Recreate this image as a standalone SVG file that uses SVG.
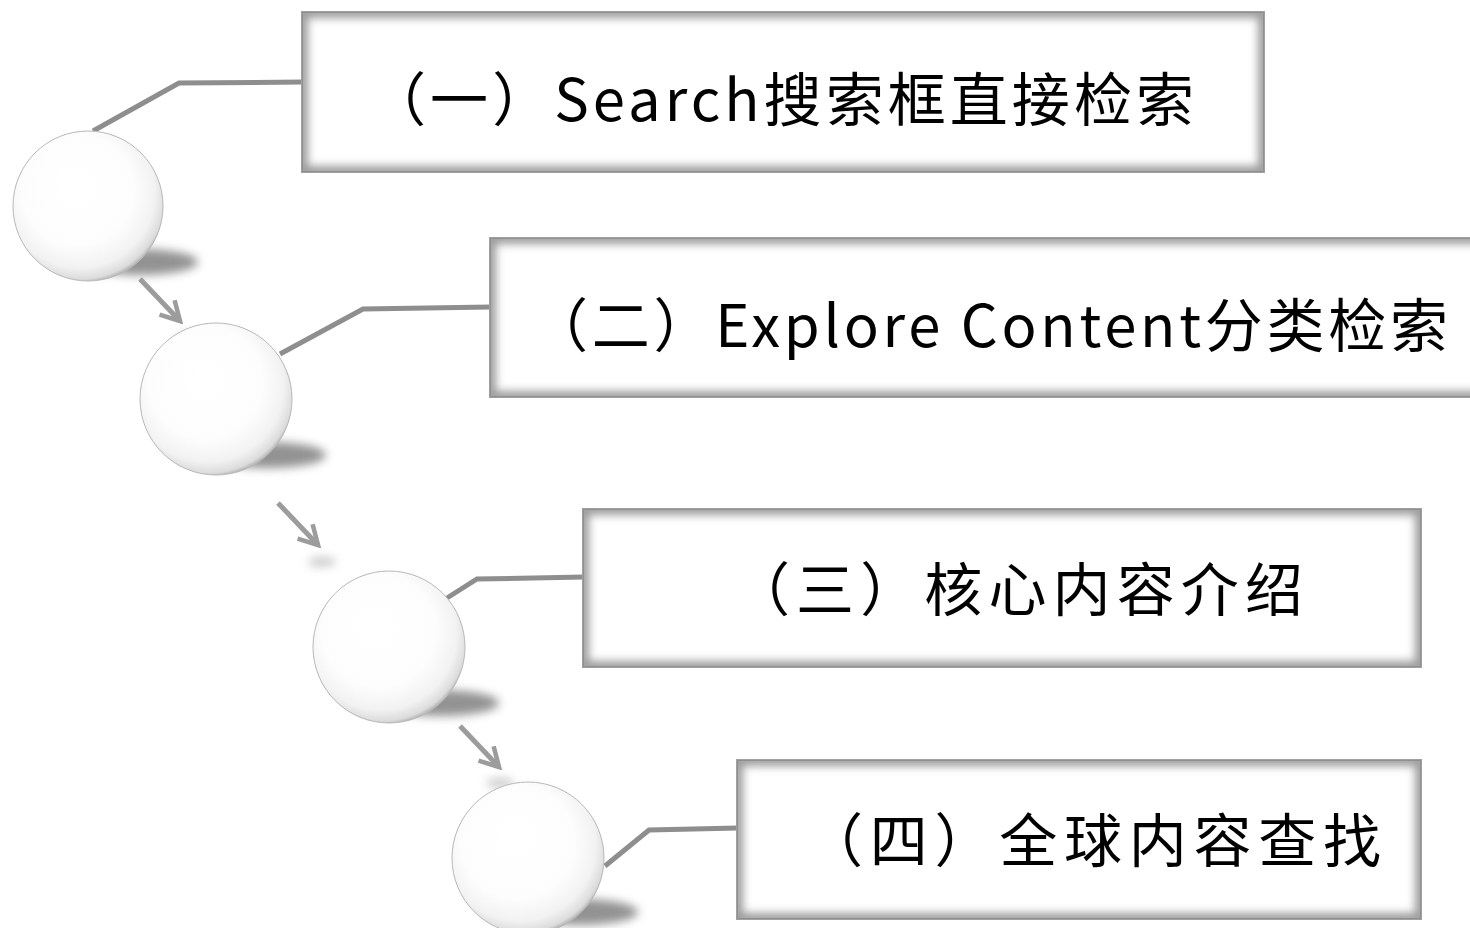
<svg xmlns="http://www.w3.org/2000/svg" width="1470" height="928" viewBox="0 0 1470 928">
<defs>
<style>
.box{fill:#ffffff;stroke:#a0a0a0;stroke-width:2}
.edge{fill:none;stroke:#8a8a8a;stroke-width:12;opacity:0.85;filter:url(#soft);clip-path:url(#inside)}
.ball{fill:url(#ballGrad);stroke:#b8b8b8;stroke-width:1}
.shadow{fill:#6e6e6e;opacity:0.75;filter:url(#blur)}
.ashadow{fill:#9a9a9a;opacity:0.5;filter:url(#blur)}
.conn{fill:none;stroke:#8e8e8e;stroke-width:5;stroke-linejoin:miter}
.arrow{fill:none;stroke:#9c9c9c;stroke-width:5;marker-end:url(#chev)}
.lbl{font-family:"Noto Sans CJK SC","Liberation Sans",sans-serif;font-size:58px;fill:#000}
</style>
<clipPath id="inside" clipPathUnits="objectBoundingBox"><rect x="0" y="0" width="1" height="1"/></clipPath>
<filter id="soft" x="-5%" y="-20%" width="110%" height="140%">
<feGaussianBlur stdDeviation="4"/>
</filter>
<filter id="blur" x="-50%" y="-100%" width="200%" height="300%">
<feGaussianBlur stdDeviation="5"/>
</filter>
<radialGradient id="ballGrad" cx="45%" cy="42%" r="60%" fx="40%" fy="35%">
<stop offset="0" stop-color="#ffffff"/>
<stop offset="0.62" stop-color="#fdfdfd"/>
<stop offset="0.84" stop-color="#f2f2f2"/>
<stop offset="0.95" stop-color="#dcdcdc"/>
<stop offset="1" stop-color="#aaaaaa"/>
</radialGradient>
<marker id="chev" viewBox="0 0 12 12" refX="10" refY="6" markerWidth="5" markerHeight="5" orient="auto" markerUnits="strokeWidth">
<path d="M1,1 L10,6 L1,11" fill="none" stroke="#9c9c9c" stroke-width="2.2"/>
</marker>
</defs>
<rect width="1470" height="928" fill="#ffffff"/>

<g id="shadows">
<ellipse class="shadow" cx="140" cy="262" rx="58" ry="13"/>
<ellipse class="shadow" cx="268" cy="455" rx="58" ry="13"/>
<ellipse class="shadow" cx="441" cy="703" rx="58" ry="13"/>
<ellipse class="shadow" cx="580" cy="912" rx="58" ry="13"/>
<ellipse class="ashadow" cx="190" cy="338" rx="14" ry="5"/>
<ellipse class="ashadow" cx="322" cy="562" rx="14" ry="5"/>
<ellipse class="ashadow" cx="500" cy="783" rx="14" ry="5"/>
</g>

<g id="connectors">
<polyline class="conn" points="93,131 179,83 303,82"/>
<polyline class="conn" points="280,354 363,309 491,307"/>
<polyline class="conn" points="447,598 477,579 584,577"/>
<polyline class="conn" points="605,866 649,830 738,828"/>
<line class="arrow" x1="140" y1="279" x2="180" y2="321"/>
<line class="arrow" x1="278" y1="503" x2="318" y2="545"/>
<line class="arrow" x1="460" y1="726" x2="499" y2="767"/>
</g>

<g id="ball1"><circle class="ball" cx="88" cy="206" r="75"/></g>
<g id="ball2"><circle class="ball" cx="216" cy="399" r="76"/></g>
<g id="ball3"><circle class="ball" cx="389" cy="647" r="76"/></g>
<g id="ball4"><circle class="ball" cx="528" cy="858" r="76"/></g>

<g id="box1">
<rect class="box" x="302" y="12" width="962" height="160"/>
<rect class="edge" x="302" y="12" width="962" height="160"/>
<text class="lbl" x="368" y="121" textLength="826" lengthAdjust="spacing">（一）Search搜索框直接检索</text>
</g>
<g id="box2">
<rect class="box" x="490" y="238" width="1000" height="159"/>
<rect class="edge" x="490" y="238" width="1000" height="159"/>
<text class="lbl" x="530" y="347" textLength="918" lengthAdjust="spacing">（二）Explore Content分类检索</text>
</g>
<g id="box3">
<rect class="box" x="583" y="509" width="838" height="158"/>
<rect class="edge" x="583" y="509" width="838" height="158"/>
<text class="lbl" x="732" y="611" textLength="571" lengthAdjust="spacing">（三）核心内容介绍</text>
</g>
<g id="box4">
<rect class="box" x="737" y="760" width="684" height="159"/>
<rect class="edge" x="737" y="760" width="684" height="159"/>
<text class="lbl" x="805" y="862" textLength="576" lengthAdjust="spacing">（四）全球内容查找</text>
</g>
</svg>
